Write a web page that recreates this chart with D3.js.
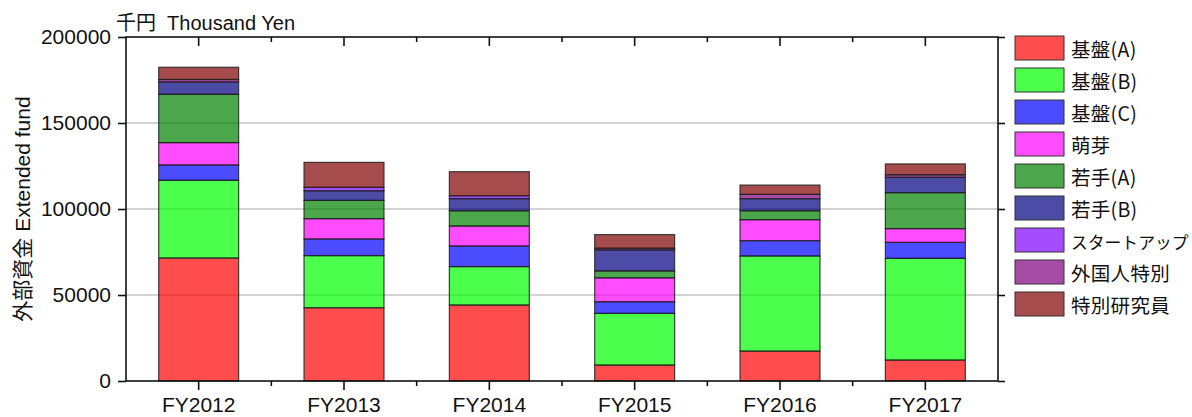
<!DOCTYPE html>
<html><head><meta charset="utf-8">
<script src="https://cdn.jsdelivr.net/npm/d3@7"></script>
<style>
body{margin:0;background:#fff;}
text{font-family:"Liberation Sans",Arial,"Noto Sans CJK JP",sans-serif;fill:#111;}
</style></head>
<body><svg id="c" width="1192" height="417"></svg>
<script>
const years = ["FY2012","FY2013","FY2014","FY2015","FY2016","FY2017"];
const seriesNames = ["基盤(A)","基盤(B)","基盤(C)","萌芽","若手(A)","若手(B)","スタートアップ","外国人特別","特別研究員"];
const seriesColors = ["#ff0000","#00ff00","#0000ff","#ff00ff","#008000","#000080","#8000ff","#800080","#800000"];
const kibanA   = [71500, 42600, 44200,  9300, 17400, 12200];
const kibanB   = [45200, 30300, 22300, 30000, 55300, 59100];
const kibanC   = [ 8900,  9700, 12000,  6800,  8900,  9300];
const houga    = [13000, 11800, 11600, 13900, 12200,  8000];
const wakateA  = [28100, 10600,  8900,  4000,  5200, 20900];
const wakateB  = [ 7100,  5600,  7000, 12200,  7000,  8900];
const startup  = [    0,  2000,  1700,     0,     0,     0];
const gaikoku  = [ 1500,     0,     0,  1000,  2500,  1500];
const tokubetsu= [ 7100, 14500, 14000,  7900,  5400,  6300];
const yTicks = [0, 50000, 100000, 150000, 200000];

const seriesVals = [kibanA,kibanB,kibanC,houga,wakateA,wakateB,startup,gaikoku,tokubetsu];
const rows = years.map((y,i)=>{const r={year:y}; seriesNames.forEach((s,j)=>r[s]=seriesVals[j][i]); return r;});
const stacked = d3.stack().keys(seriesNames)(rows);

const svg = d3.select("#c");
const L=126,R=998,T=37,B=381;
const x = d3.scaleBand().domain(years).range([L,R]).paddingInner(0.45).paddingOuter(0.225);
const y = d3.scaleLinear().domain([0,200000]).range([B,T]);

// gridlines
svg.append("g").selectAll("line").data(yTicks.filter(v=>v>0&&v<200000)).join("line")
  .attr("x1",L).attr("x2",R).attr("y1",d=>y(d)).attr("y2",d=>y(d))
  .attr("stroke","#c4c4c4").attr("stroke-width",1.5);

// bars
svg.append("g").selectAll("g").data(stacked).join("g")
  .attr("fill",(d,i)=>seriesColors[i]).attr("fill-opacity",0.7)
  .selectAll("rect").data(d=>d).join("rect")
  .attr("x",d=>x(d.data.year)).attr("width",x.bandwidth())
  .attr("y",d=>y(d[1])).attr("height",d=>Math.max(0,y(d[0])-y(d[1])))
  .attr("stroke","#222").attr("stroke-opacity",0.85).attr("stroke-width",1.2);

// frame
svg.append("rect").attr("x",L).attr("y",T).attr("width",R-L).attr("height",B-T)
  .attr("fill","none").attr("stroke","#111").attr("stroke-width",1.6);

// left axis
const yl = svg.append("g").attr("transform",`translate(${L},0)`)
  .call(d3.axisLeft(y).tickValues(yTicks).tickSize(8).tickPadding(7).tickFormat(d3.format("d")));
yl.select(".domain").remove();
yl.selectAll("line").attr("stroke","#111").attr("stroke-width",1.6);
yl.selectAll("text").attr("font-size",21).attr("fill","#111");

// right axis ticks
const yr = svg.append("g").attr("transform",`translate(${R},0)`)
  .call(d3.axisRight(y).tickValues(yTicks).tickSize(7).tickFormat(""));
yr.select(".domain").remove();
yr.selectAll("line").attr("stroke","#111").attr("stroke-width",1.6);

// bottom axis
const xb = svg.append("g").attr("transform",`translate(0,${B})`)
  .call(d3.axisBottom(x).tickSize(9).tickPadding(7));
xb.select(".domain").remove();
xb.selectAll("line").attr("stroke","#111").attr("stroke-width",1.6);
xb.selectAll("text").attr("font-size",21).attr("fill","#111");

// top ticks (inward) and minor ticks
const centers = years.map(d=>x(d)+x.bandwidth()/2);
const step = x.step();
const minors = d3.range(1,years.length).map(i=>L+i*step);
svg.append("g").selectAll("line").data(centers).join("line")
  .attr("x1",d=>d).attr("x2",d=>d).attr("y1",T).attr("y2",T+9).attr("stroke","#111").attr("stroke-width",1.6);
svg.append("g").selectAll("line").data(minors).join("line")
  .attr("x1",d=>d).attr("x2",d=>d).attr("y1",T).attr("y2",T+5).attr("stroke","#111").attr("stroke-width",1.6);
svg.append("g").selectAll("line").data(minors).join("line")
  .attr("x1",d=>d).attr("x2",d=>d).attr("y1",B).attr("y2",B+5).attr("stroke","#111").attr("stroke-width",1.6);

// titles
svg.append("text").attr("x",116).attr("y",30).attr("font-size",20).attr("xml:space","preserve").text("千円  Thousand Yen");
svg.append("text").attr("transform",`translate(30,209) rotate(-90)`).attr("text-anchor","middle")
  .attr("font-size",21).text("外部資金 Extended fund");

// legend
const lg = svg.append("g").selectAll("g").data(seriesNames).join("g")
  .attr("transform",(d,i)=>`translate(1015,${36+i*32})`);
lg.append("rect").attr("width",49).attr("height",24)
  .attr("fill",(d,i)=>seriesColors[i]).attr("fill-opacity",0.7)
  .attr("stroke","#333").attr("stroke-width",1);
lg.append("text").attr("x",56).attr("y",20.5)
  .attr("font-size",d=>d.length>6?16.8:19.5)
  .style("font-family","'Noto Sans CJK JP',sans-serif")
  .attr("letter-spacing",d=>d.length>6?0:0.3).text(d=>d);
</script></body></html>
